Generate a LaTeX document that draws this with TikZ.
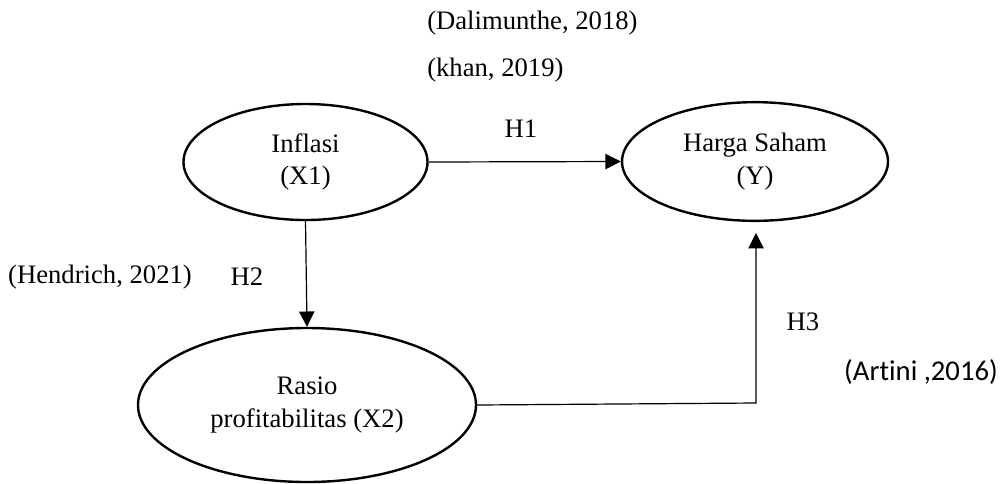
\documentclass[tikz,border=0pt]{standalone}
\usepackage{fontspec}
\setmainfont{Liberation Serif}
\newfontfamily\calibrifont[Ligatures=NoCommon]{Carlito}
\usetikzlibrary{arrows.meta,shapes.geometric}

\begin{document}
\begin{tikzpicture}[x=0.75pt,y=-0.75pt,
  var/.style={ellipse,draw,line width=1.8pt,align=center,inner sep=0pt,
              font=\fontsize{20}{24.5}\selectfont},
  cite/.style={inner sep=0pt,font=\fontsize{20}{24}\selectfont},
  conn/.style={-{Triangle[length=11.5pt,width=11.5pt]},line width=0.9pt}]
  \useasboundingbox (0,0) rectangle (1005,483);
  % variables
  \node[var,minimum width=183pt,minimum height=87pt] (inflasi) at (305.5,162) {Inflasi\\(X1)};
  \node[var,minimum width=199.5pt,minimum height=89pt] (harga) at (755,161.5) {Harga Saham\\(Y)};
  \node[var,minimum width=253.5pt,minimum height=115.5pt] (rasio) at (307,405) {Rasio\\profitabilitas (X2)};
  % hypotheses
  \coordinate (h3corner) at (756,403);
  \coordinate (h3tip) at (756,233);
  \draw[conn] (inflasi.east) -- (harga.west);
  \draw[conn] (inflasi.south) -- (rasio.north);
  \draw[conn] (rasio.east) -- (h3corner) -- (h3tip);
  \node[cite] (h1) at (521,129) {H1};
  \node[cite] (h2) at (247,277) {H2};
  \node[cite] (h3) at (803,322) {H3};
  % sources
  \node[cite,anchor=west] (dalimunthe) at (427,23) {(Dalimunthe, 2018)};
  \node[cite,anchor=west] (khan) at (427,70) {(khan, 2019)};
  \node[cite] (hendrich) at (100,277) {(Hendrich, 2021)};
  \node[cite,font=\calibrifont\fontsize{21.5}{25}\selectfont] (artini) at (921,372) {(Artini ,2016)};
\end{tikzpicture}
\end{document}
